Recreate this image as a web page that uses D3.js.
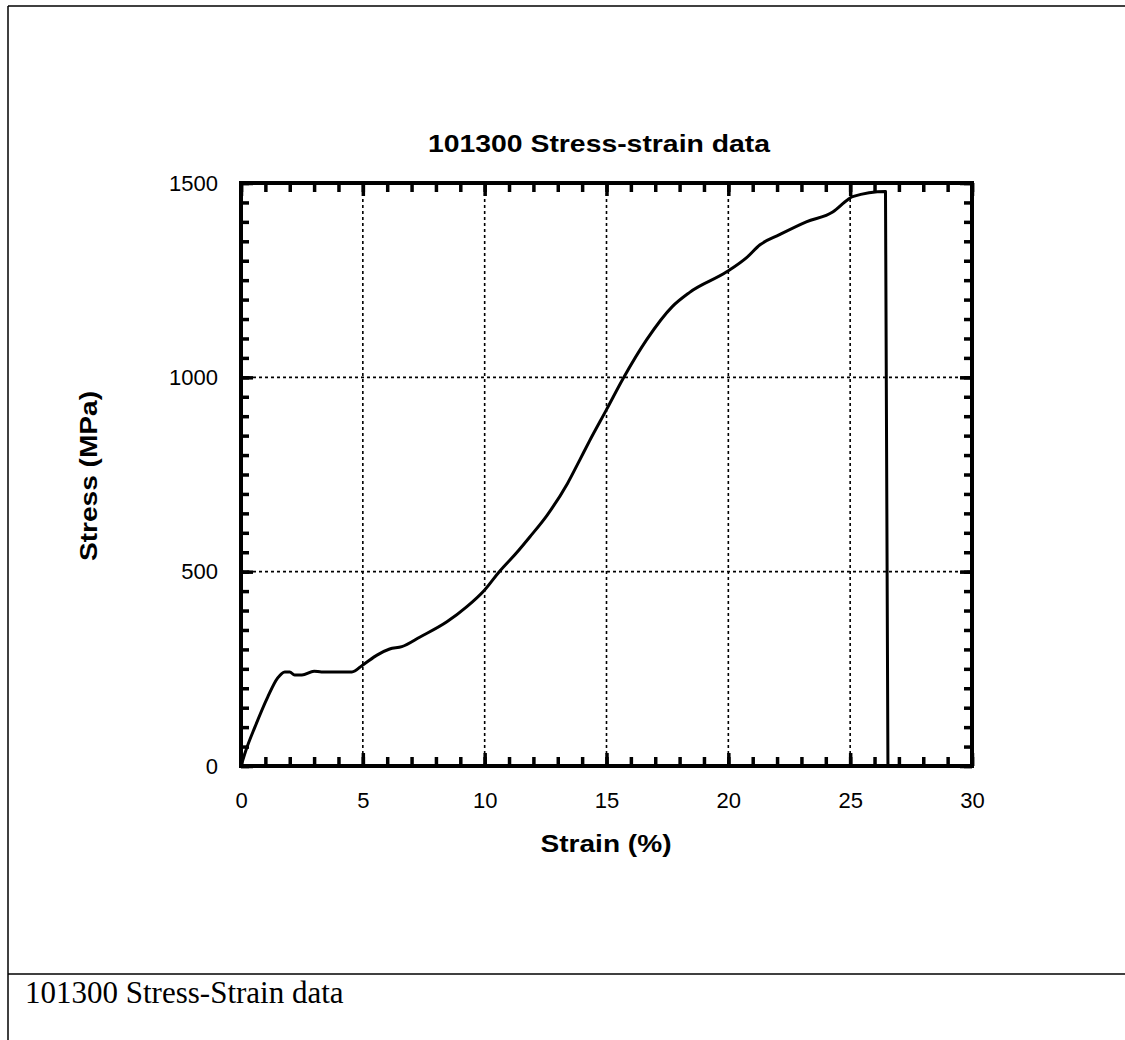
<!DOCTYPE html>
<html>
<head>
<meta charset="utf-8">
<script src="https://cdn.jsdelivr.net/npm/d3@7"></script>
<style>
  body { margin: 0; background: #fff; }
  svg { display: block; }
</style>
</head>
<body>
<div id="chart"></div>
<script>
// data
var strain = [0, 0.2, 0.57, 1.1, 1.5, 1.8, 2.0, 2.2, 2.5, 3.0, 3.3, 4.55, 5.0, 5.6, 6.1, 6.6, 7.35, 8.45, 9.27, 10.0,
              10.6, 11.3, 11.86, 12.56, 13.4, 13.9, 14.3, 15.0, 15.7, 16.65, 17.7, 18.4, 19.95, 20.75, 21.3, 22.1,
              23.2, 24.3, 24.9, 25.1, 26.45, 26.55];
var stress = [0, 40, 100, 178, 226, 242, 242, 234, 234, 244, 242, 242, 260, 286, 301, 307, 332, 371, 410, 453,
              500, 548, 590, 645, 727, 787, 836, 917, 999, 1097, 1182, 1218, 1272, 1308, 1341, 1367,
              1400, 1426, 1457, 1465, 1478, 0];
var xTicks = [0, 5, 10, 15, 20, 25, 30];
var yTicks = [0, 500, 1000, 1500];

var svgWidth = 1125;
var svgHeight = 1040;

var svg = d3.select("#chart")
    .append("svg")
    .attr("width", svgWidth)
    .attr("height", svgHeight);

// page frame
svg.append("line").attr("x1", 8).attr("x2", svgWidth).attr("y1", 6).attr("y2", 6)
    .attr("stroke", "#000").attr("stroke-width", 1.5);
svg.append("line").attr("x1", 8).attr("x2", 8).attr("y1", 6).attr("y2", svgHeight)
    .attr("stroke", "#000").attr("stroke-width", 1.5);
svg.append("line").attr("x1", 8).attr("x2", svgWidth).attr("y1", 974).attr("y2", 974)
    .attr("stroke", "#000").attr("stroke-width", 1.5);

svg.append("text")
    .attr("x", 25)
    .attr("y", 1003)
    .attr("font-family", "Liberation Serif, Times New Roman, serif")
    .attr("font-size", "31px")
    .text("101300 Stress-Strain data");

// scales
var x = d3.scaleLinear().domain([0, 30]).range([241, 972]);
var y = d3.scaleLinear().domain([0, 1500]).range([766, 183]);

var plot = svg.append("g");

// dotted grid
plot.selectAll(".vgrid")
    .data(xTicks.slice(1, -1))
    .enter()
    .append("line")
    .attr("x1", function(d) { return x(d); })
    .attr("x2", function(d) { return x(d); })
    .attr("y1", y(0))
    .attr("y2", y(1500))
    .attr("stroke", "#000")
    .attr("stroke-width", 1.6)
    .attr("stroke-dasharray", "3,3");

plot.selectAll(".hgrid")
    .data(yTicks.slice(1, -1))
    .enter()
    .append("line")
    .attr("x1", x(0))
    .attr("x2", x(30))
    .attr("y1", function(d) { return y(d); })
    .attr("y2", function(d) { return y(d); })
    .attr("stroke", "#000")
    .attr("stroke-width", 1.6)
    .attr("stroke-dasharray", "3,3");

// inward ticks on all four sides
function tickAxis(axis, values, size, tx, ty) {
    var g = plot.append("g")
        .attr("transform", "translate(" + tx + "," + ty + ")")
        .call(axis.tickValues(values).tickSize(size).tickFormat(""));
    g.select(".domain").remove();
    g.selectAll(".tick line").attr("stroke", "#000").attr("stroke-width", 3.5);
}

var xMinor = d3.range(0, 31, 1);
var yMinor = d3.range(0, 1501, 50);

tickAxis(d3.axisBottom(x), xMinor, -9, 0, y(0));
tickAxis(d3.axisBottom(x), xTicks, -13, 0, y(0));
tickAxis(d3.axisTop(x), xMinor, -9, 0, y(1500));
tickAxis(d3.axisTop(x), xTicks, -13, 0, y(1500));
tickAxis(d3.axisLeft(y), yMinor, -8, x(0), 0);
tickAxis(d3.axisLeft(y), yTicks, -12, x(0), 0);
tickAxis(d3.axisRight(y), yMinor, -8, x(30), 0);
tickAxis(d3.axisRight(y), yTicks, -12, x(30), 0);

// tick labels
var xLab = plot.append("g")
    .attr("transform", "translate(0," + y(0) + ")")
    .call(d3.axisBottom(x).tickValues(xTicks).tickSize(0).tickPadding(26).tickFormat(d3.format("d")));
xLab.select(".domain").remove();
xLab.selectAll("text")
    .attr("font-family", "Liberation Sans, Arial, sans-serif")
    .attr("font-size", "22px")
    .attr("fill", "#000");

var yLab = plot.append("g")
    .attr("transform", "translate(" + x(0) + ",0)")
    .call(d3.axisLeft(y).tickValues(yTicks).tickSize(0).tickPadding(23).tickFormat(d3.format("d")));
yLab.select(".domain").remove();
yLab.selectAll("text")
    .attr("font-family", "Liberation Sans, Arial, sans-serif")
    .attr("font-size", "22px")
    .attr("fill", "#000");

// frame
plot.append("rect")
    .attr("x", x(0))
    .attr("y", y(1500))
    .attr("width", x(30) - x(0))
    .attr("height", y(0) - y(1500))
    .attr("fill", "none")
    .attr("stroke", "#000")
    .attr("stroke-width", 4);

// stress-strain curve
var line = d3.line()
    .curve(d3.curveMonotoneX)
    .x(function(d) { return x(d[0]); })
    .y(function(d) { return y(d[1]); });

plot.append("path")
    .datum(d3.zip(strain, stress))
    .attr("d", line)
    .attr("fill", "none")
    .attr("stroke", "#000")
    .attr("stroke-width", 3)
    .attr("stroke-linejoin", "round");

// titles
plot.append("text")
    .attr("x", 599)
    .attr("y", 152)
    .attr("text-anchor", "middle")
    .attr("font-family", "Liberation Sans, Arial, sans-serif")
    .attr("font-weight", "bold")
    .attr("font-size", "24px")
    .attr("textLength", 342)
    .attr("lengthAdjust", "spacingAndGlyphs")
    .text("101300 Stress-strain data");

plot.append("text")
    .attr("x", 606)
    .attr("y", 852)
    .attr("text-anchor", "middle")
    .attr("font-family", "Liberation Sans, Arial, sans-serif")
    .attr("font-weight", "bold")
    .attr("font-size", "24px")
    .attr("textLength", 131)
    .attr("lengthAdjust", "spacingAndGlyphs")
    .text("Strain (%)");

plot.append("text")
    .attr("transform", "translate(97,476) rotate(-90)")
    .attr("text-anchor", "middle")
    .attr("font-family", "Liberation Sans, Arial, sans-serif")
    .attr("font-weight", "bold")
    .attr("font-size", "24px")
    .attr("textLength", 170)
    .attr("lengthAdjust", "spacingAndGlyphs")
    .text("Stress (MPa)");
</script>
</body>
</html>
